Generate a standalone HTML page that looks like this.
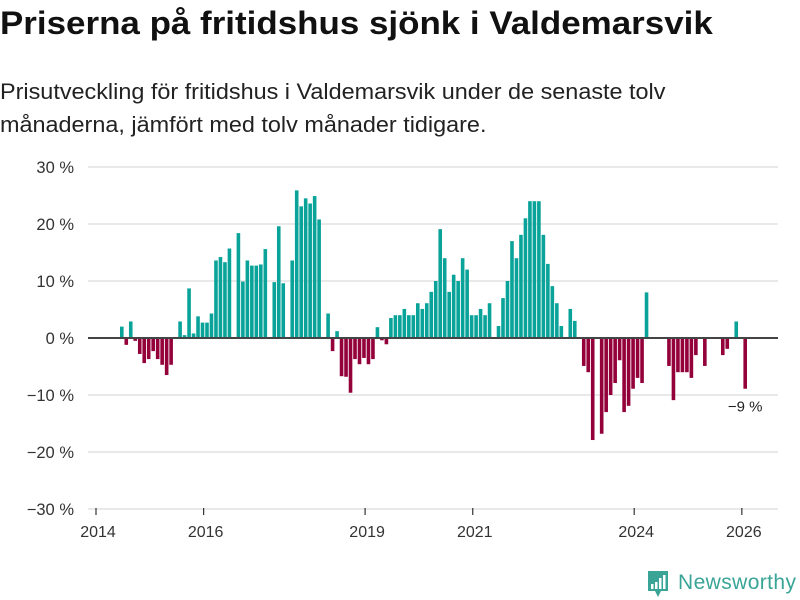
<!DOCTYPE html>
<html><head><meta charset="utf-8"><style>
body{margin:0;width:800px;height:600px;background:#fff;overflow:hidden;font-family:"Liberation Sans","DejaVu Sans",sans-serif;color:#111}
#title{position:absolute;left:0;top:5px;font-size:32px;font-weight:bold;white-space:nowrap;transform:scaleX(1.092);transform-origin:0 0}
#sub{position:absolute;left:0;top:75px;font-size:22.5px;line-height:33px;color:#222;white-space:nowrap;transform:scaleX(1.04);transform-origin:0 0}
svg{position:absolute;left:0;top:0}
</style></head><body>
<div id="title">Priserna på fritidshus sjönk i Valdemarsvik</div>
<div id="sub">Prisutveckling för fritidshus i Valdemarsvik under de senaste tolv<br>månaderna, jämfört med tolv månader tidigare.</div>
<svg id="chart" width="800" height="600"></svg>
<script>
const yTicks=[30,20,10,0,-10,-20,-30];
const yTickLabels=["30 %","20 %","10 %","0 %","−10 %","−20 %","−30 %"];
const xTickYears=[2014,2016,2019,2021,2024,2026];
const startOffset=5; // first bar month index from Jan 2014
const values=[2.0,-1.2,2.9,-0.5,-2.8,-4.4,-3.7,-2.3,-3.7,-4.7,-6.5,-4.7,null,2.9,0.5,8.7,0.8,3.8,2.7,2.7,4.3,13.6,14.2,13.3,15.7,null,18.4,9.9,13.6,12.7,12.7,12.9,15.6,null,9.8,19.6,9.6,null,13.6,25.9,23.1,24.5,23.6,24.9,20.8,null,4.3,-2.3,1.2,-6.7,-6.8,-9.6,-3.7,-4.6,-3.5,-4.6,-3.7,1.9,-0.4,-1.1,3.5,4.0,4.0,5.1,4.0,4.0,6.1,5.1,6.1,8.1,10.0,19.1,14.0,8.1,11.1,10.0,14.0,12.0,4.0,4.0,5.1,4.0,6.1,null,2.1,7.0,10.0,17.0,14.0,18.1,21.0,24,24,24,18.1,13.0,9.1,6.1,2.1,null,5.1,3.0,null,-4.9,-6.0,-17.9,null,-16.8,-13.0,-10.0,-7.9,-3.9,-13.0,-11.9,-8.9,-7.0,-7.9,8.0,null,null,null,null,-4.9,-10.9,-6.0,-6.0,-6.0,-7.0,-3.0,null,-4.9,null,null,null,-3.0,-1.9,null,2.9,null,-8.9];
const lastLabel="−9 %";

const NS="http://www.w3.org/2000/svg";
const svg=document.getElementById('chart');
const y=v=>338-v*5.7;
const x=m=>96+m*4.485;
function mk(t,a){const e=document.createElementNS(NS,t);for(const k in a)e.setAttribute(k,a[k]);svg.appendChild(e);return e;}
yTicks.forEach((t,i)=>{
  if(t!==0){const g=mk('line',{x1:88,x2:778,y1:y(t),y2:y(t),stroke:'#dcdcdc','stroke-width':1.3});
  
  }
  const l=mk('text',{x:74,y:y(t)+6,'text-anchor':'end','font-size':16.5,fill:'#333'});
  l.textContent=yTickLabels[i];
  
  
});
values.forEach((v,i)=>{
  if(v===null)return;
  const cx=x(i+startOffset+0.75);
  const r=mk('rect',{x:cx-1.8,width:3.6,y:Math.min(y(v),y(0)),height:Math.abs(y(v)-y(0)),fill:v>=0?'#0aa39a':'#93003a'});
  
  
});
const z=mk('line',{x1:88,x2:778,y1:y(0),y2:y(0),stroke:'#444','stroke-width':2});


xTickYears.forEach(yr=>{
  const px=x((yr-2014)*12);
  const t=mk('line',{x1:px,x2:px,y1:508,y2:515,stroke:'#333','stroke-width':1.2});
  
  
  const l=mk('text',{x:px+2,y:537,'text-anchor':'middle','font-size':16,fill:'#333'});
  l.textContent=yr;
  
  
});
const li=values.length-1;
const an=mk('text',{x:x(li+startOffset+0.75),y:y(values[li])+23,'text-anchor':'middle','font-size':15,fill:'#222'});
an.textContent=lastLabel;


</script>
<svg width="800" height="600" style="pointer-events:none">
<path d="M648 571h20v20h-7l-3 6-3-6h-7z" fill="#3aa597"/>
<rect x="651" y="584" width="2.5" height="5" fill="#fff"/><rect x="655" y="582" width="2.5" height="7" fill="#fff"/><rect x="659" y="578" width="2.5" height="11" fill="#fff"/><rect x="663" y="575" width="2.5" height="14" fill="#fff"/>
<text x="678" y="589" font-size="21" fill="#3aa597" font-family="Liberation Sans, sans-serif" textLength="118">Newsworthy</text>
</svg>
</body></html>
